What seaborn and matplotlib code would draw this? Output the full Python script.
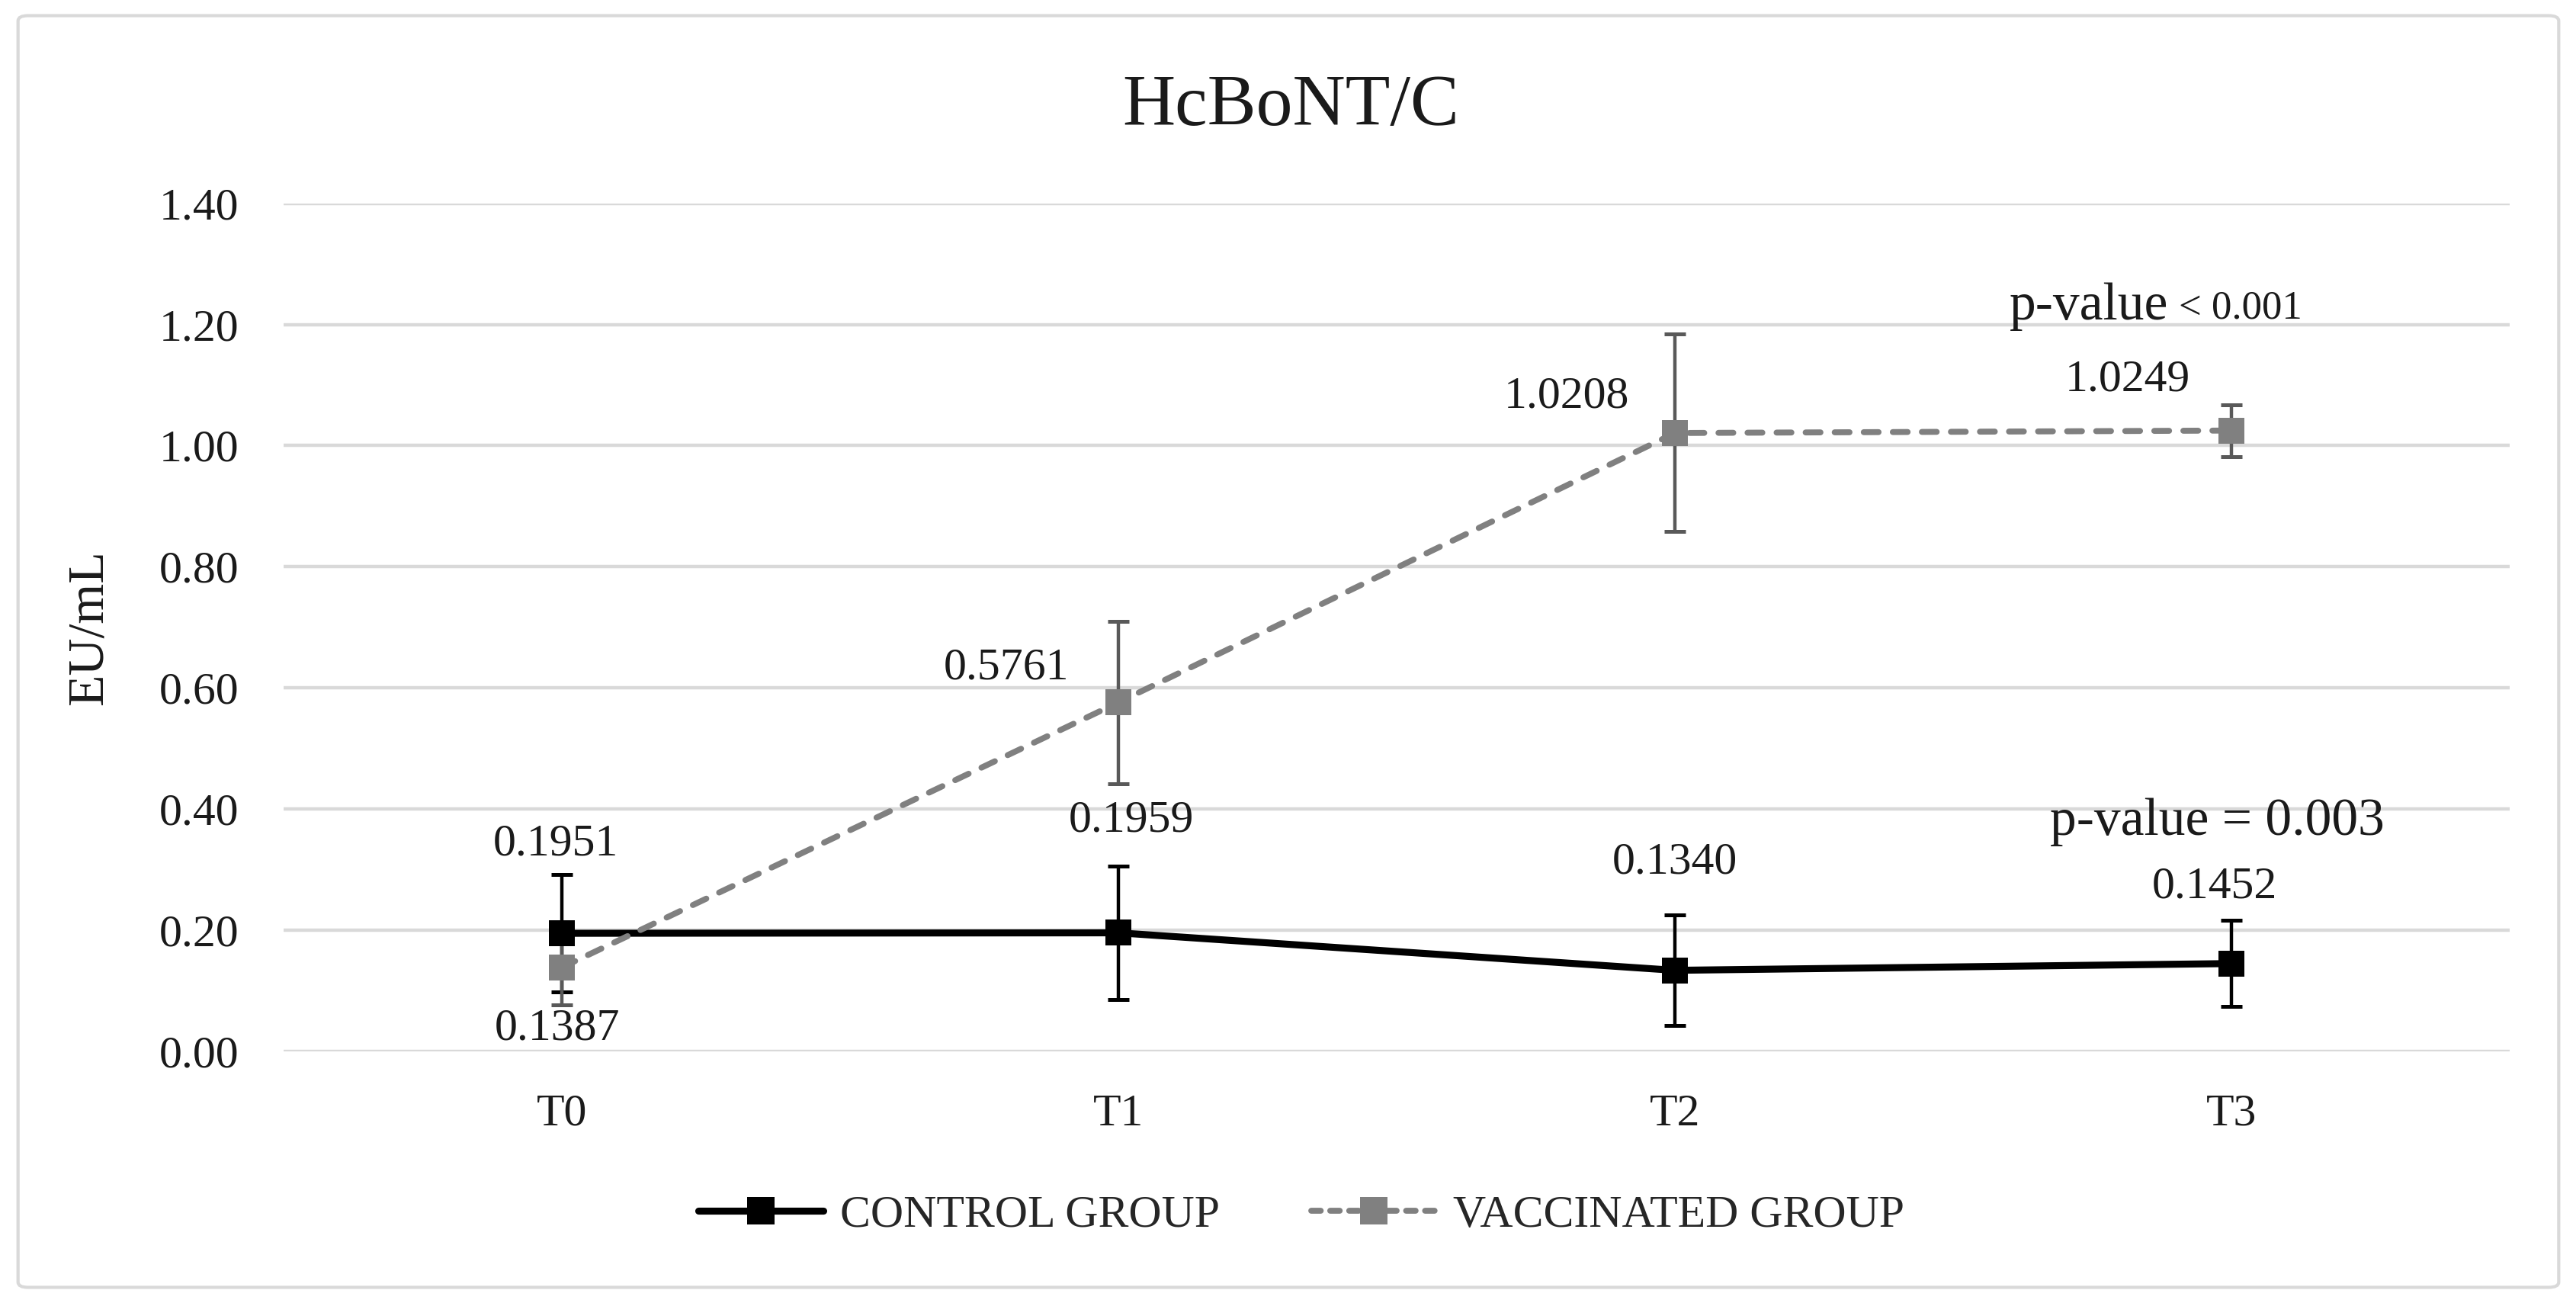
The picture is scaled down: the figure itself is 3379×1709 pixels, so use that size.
import numpy as np
import pandas as pd
import seaborn as sns
import matplotlib.pyplot as plt
from matplotlib.lines import Line2D
from matplotlib.patches import FancyBboxPatch

# values
times = ["T0", "T1", "T2", "T3"]
control_mean = [0.1951, 0.1959, 0.1340, 0.1452]
control_err = [0.097, 0.110, 0.091, 0.071]
vacc_mean = [0.1387, 0.5761, 1.0208, 1.0249]
vacc_err = [0.062, 0.134, 0.163, 0.043]
groups = ["CONTROL GROUP", "VACCINATED GROUP"]

# label offsets (points) for the value annotations
control_off = [(-3, 42), (6, 53), (0, 51), (-8, 36)]
vacc_off = [(-2, -29), (-53, 16), (-51, 17), (-49, 24)]

df = pd.DataFrame({
    "time": times * 2,
    "mean": control_mean + vacc_mean,
    "group": [groups[0]] * 4 + [groups[1]] * 4,
})
df["x"] = df["time"].map({t: i for i, t in enumerate(times)})

sns.set_theme(style="white")
plt.rcParams["font.family"] = ["Liberation Serif", "DejaVu Serif"]

cols = {groups[0]: "#000000", groups[1]: "#808080"}
errcols = {groups[0]: "#000000", groups[1]: "#595959"}
dash = (0, (2.5, 2.4))
txt = "#1a1a1a"

fig = plt.figure(figsize=(16.9, 8.545), dpi=200)
ax = fig.add_axes([0.110, 0.193, 0.864, 0.651])

x = np.arange(len(times))
ax.errorbar(x, control_mean, yerr=control_err, fmt="none", ecolor=errcols[groups[0]],
            elinewidth=1.6, capsize=5, capthick=1.8, zorder=2)
ax.errorbar(x, vacc_mean, yerr=vacc_err, fmt="none", ecolor=errcols[groups[1]],
            elinewidth=1.6, capsize=5, capthick=1.8, zorder=2)

sns.lineplot(data=df[df.group == groups[0]], x="x", y="mean", color=cols[groups[0]],
             lw=3.3, marker="s", markersize=12.5, markeredgewidth=0, ax=ax, zorder=3, legend=False)
sns.lineplot(data=df[df.group == groups[1]], x="x", y="mean", color=cols[groups[1]],
             lw=2.8, linestyle=dash, dash_capstyle="round", marker="s", markersize=12.5,
             markeredgewidth=0, ax=ax, zorder=4, legend=False)

for i in range(len(times)):
    ax.annotate(f"{control_mean[i]:.4f}", (x[i], control_mean[i]), xytext=control_off[i],
                textcoords="offset points", ha="center", va="center", fontsize=21.5, color=txt)
    ax.annotate(f"{vacc_mean[i]:.4f}", (x[i], vacc_mean[i]), xytext=vacc_off[i],
                textcoords="offset points", ha="center", va="center", fontsize=21.5, color=txt)

# p-values
t1 = ax.text(2.601, 1.208, "p-value", fontsize=25, va="baseline", color=txt)
ax.annotate("< 0.001", xy=(1, 0), xycoords=t1, xytext=(5, 2), textcoords="offset points",
            fontsize=19, va="bottom", color=txt)
ax.text(2.674, 0.358, "p-value = 0.003", fontsize=25, va="baseline", color=txt)

ax.set_xlim(-0.5, 3.5)
ax.set_ylim(0, 1.4)
yt = np.arange(0, 1.41, 0.2)
ax.set_yticks(yt)
ax.set_yticklabels([f"{v:.2f}" for v in yt])
ax.set_xticks(x)
ax.set_xticklabels(times)
ax.tick_params(axis="y", length=0, pad=21, labelsize=21.5, labelcolor=txt)
ax.tick_params(axis="x", length=0, pad=20, labelsize=21.5, labelcolor=txt)
ax.set_xlabel("")
ax.set_ylabel("EU/mL", fontsize=24.5, color=txt)
ax.yaxis.set_label_coords(-0.0767, 0.5)
ax.grid(axis="y", color="#d9d9d9", lw=1.6)
ax.grid(axis="x", visible=False)
ax.set_axisbelow(True)
for s in ax.spines.values():
    s.set_visible(False)

fig.text(0.501, 0.9175, "HcBoNT/C", ha="center", va="center", fontsize=34.5, color=txt)

handles = [
    Line2D([], [], color=cols[groups[0]], lw=3.3, marker="s", markersize=13, markeredgewidth=0),
    Line2D([], [], color=cols[groups[1]], lw=2.8, linestyle=(0, (1.6, 1.6)), marker="s",
           markersize=13, markeredgewidth=0, dash_capstyle="round"),
]
fig.legend(handles, groups, loc="center", bbox_to_anchor=(0.505, 0.067), ncol=2, frameon=False,
           fontsize=21.5, handlelength=2.75, columnspacing=2.0, handletextpad=0.37)

fig.patches.append(FancyBboxPatch((0.007, 0.012), 0.986, 0.976, boxstyle="round,pad=0,rounding_size=0.004",
                                  transform=fig.transFigure, fc="none", ec="#d9d9d9", lw=1.5))

fig.savefig("out.png", dpi=200, facecolor="white")
